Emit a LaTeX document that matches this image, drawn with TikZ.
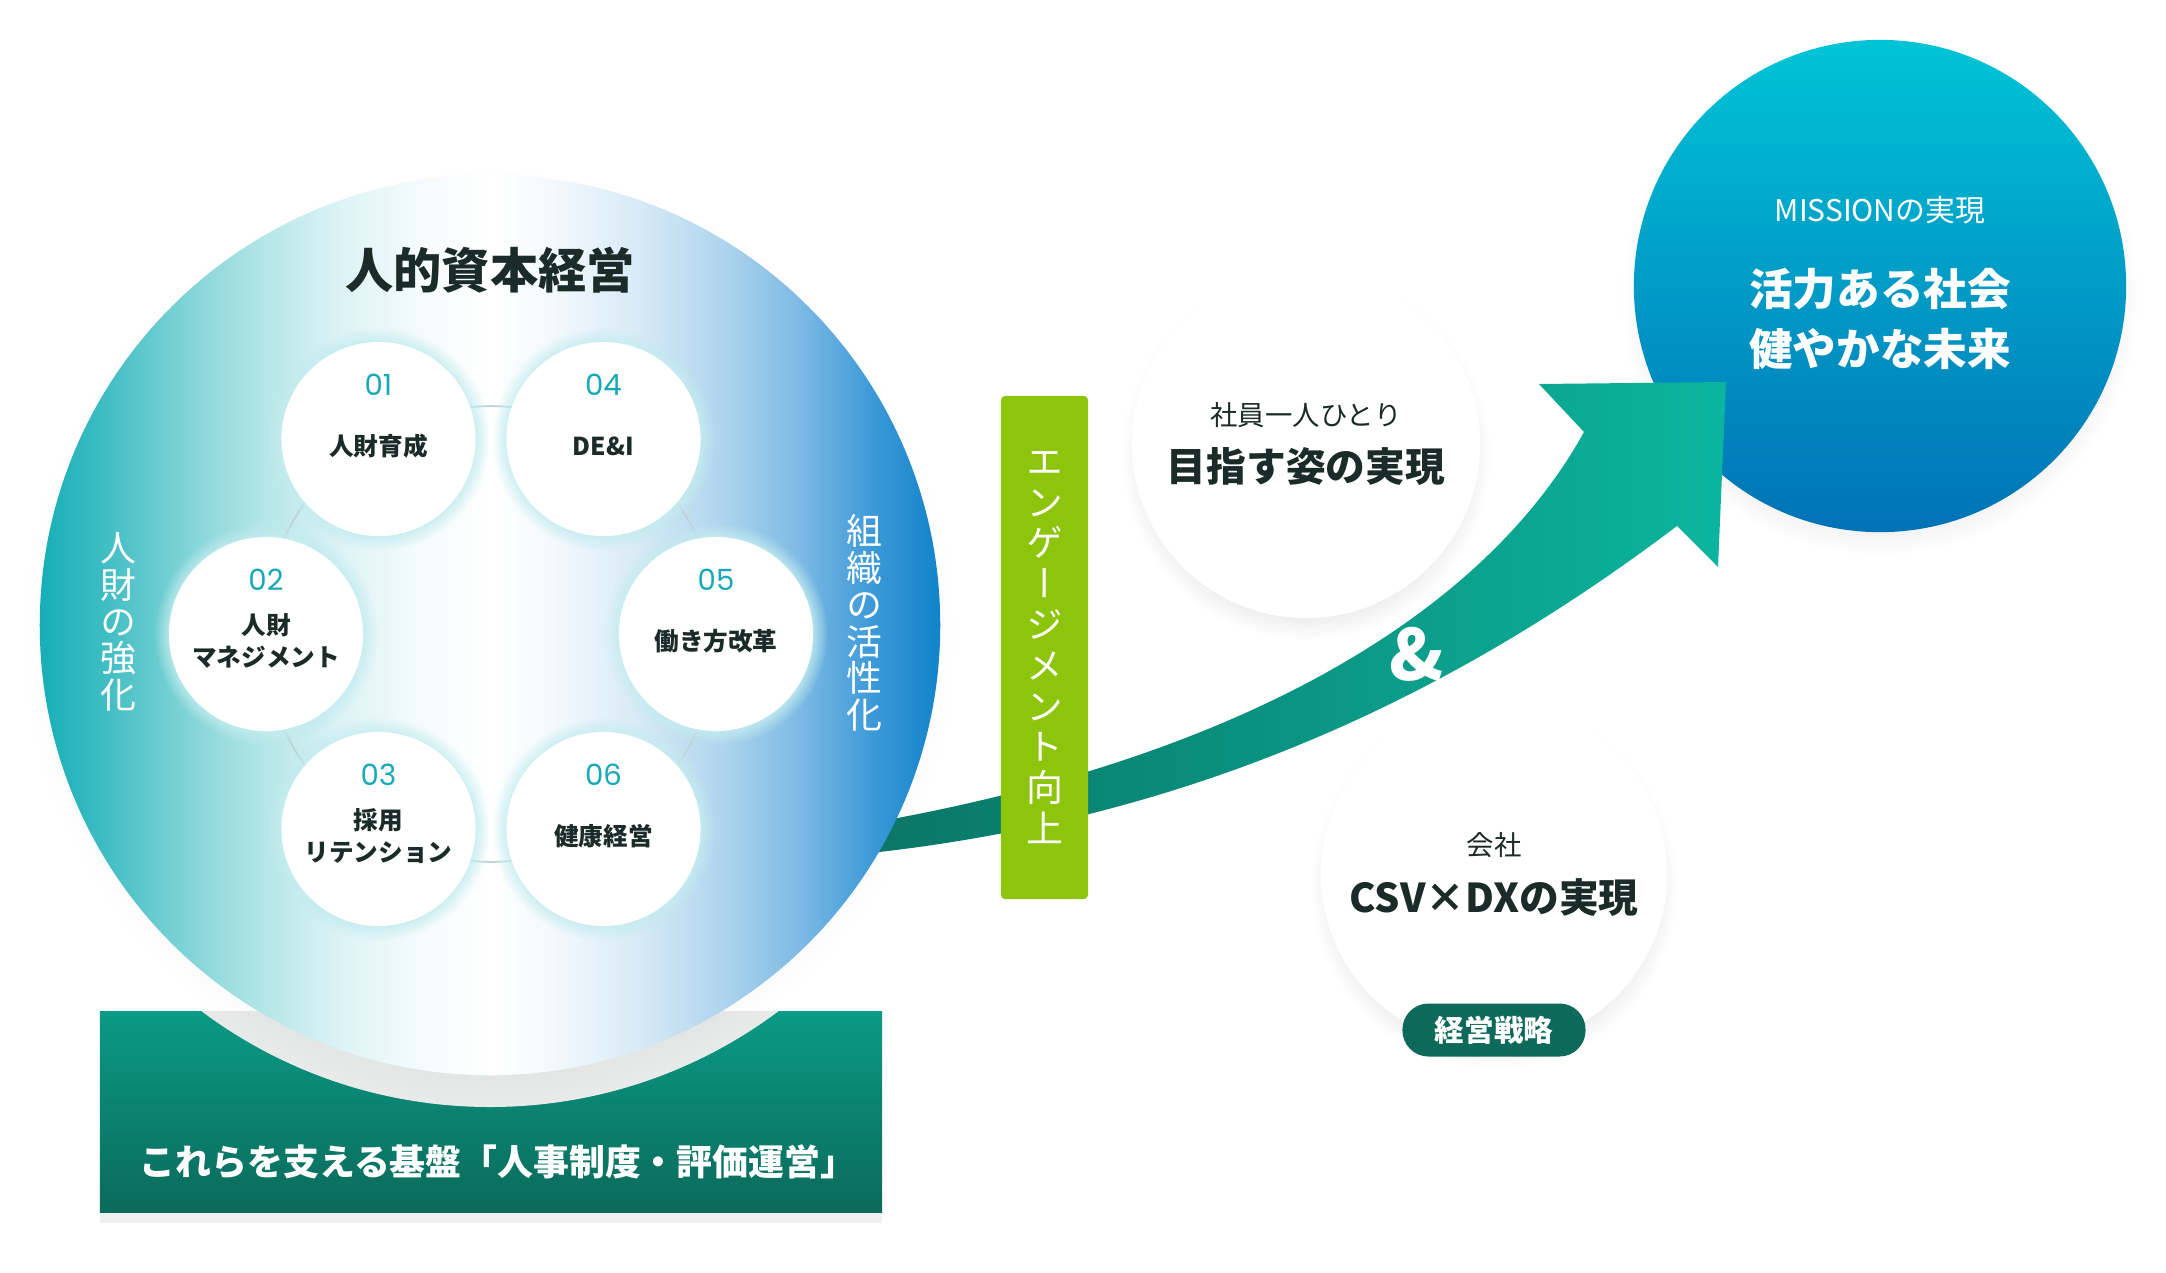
\documentclass[tikz,border=0pt]{standalone}
\usepackage{fontspec}
\setmainfont{Noto Sans CJK JP}
\newfontfamily\numfont{Poppins}
\newfontfamily\tatefont[RawFeature=+vert]{Noto Sans CJK JP}
\usetikzlibrary{shadows,fadings,positioning}

\definecolor{ink}{HTML}{1A2B28}
\definecolor{numteal}{HTML}{17A9B7}
\definecolor{rA}{HTML}{17AEB7}
\definecolor{rB}{HTML}{3BBCC2}
\definecolor{rC}{HTML}{7CD2D5}
\definecolor{rD}{HTML}{B3E5E7}
\definecolor{rE}{HTML}{DDF3F5}
\definecolor{rF}{HTML}{F5FBFC}
\definecolor{rG}{HTML}{F1F8FC}
\definecolor{rH}{HTML}{D7EAF6}
\definecolor{rI}{HTML}{B0D5EE}
\definecolor{rJ}{HTML}{7DBAE4}
\definecolor{rK}{HTML}{3E9AD8}
\definecolor{rL}{HTML}{1283CA}
\definecolor{baseTop}{HTML}{0A9A85}
\definecolor{baseBot}{HTML}{0B6A5B}
\definecolor{halo}{HTML}{E8EAEA}
\definecolor{glow}{HTML}{C3ECEF}
\definecolor{lime}{HTML}{8CC50B}
\definecolor{arrDark}{HTML}{0A7566}
\definecolor{arrLight}{HTML}{0BB59F}
\definecolor{misTop}{HTML}{00C4D6}
\definecolor{misBot}{HTML}{0072B6}
\definecolor{pillgreen}{HTML}{0D6A5A}
\definecolor{ringline}{HTML}{BFD3D4}

\pgfdeclarehorizontalshading{bigring}{100bp}{color(0bp)=(rA); color(25bp)=(rA); color(28.3bp)=(rB); color(32.8bp)=(rC); color(37.2bp)=(rD); color(41.7bp)=(rE); color(46.1bp)=(rF); color(50bp)=(white); color(53.9bp)=(rG); color(58.3bp)=(rH); color(62.8bp)=(rI); color(67.2bp)=(rJ); color(71.1bp)=(rK); color(75bp)=(rL); color(100bp)=(rL)}

\begin{document}
\begin{tikzpicture}[x=0.01cm, y=-0.01cm,
  bubble/.style={circle, fill=white, inner sep=0pt,
    circular drop shadow={shadow xshift=0pt, shadow yshift=-3pt, shadow scale=1.06, opacity=.16}},
  mission/.style={circle, inner sep=0pt, minimum size=4.92cm, top color=misTop, bottom color=misBot,
    circular drop shadow={shadow xshift=0pt, shadow yshift=-3pt, shadow scale=1.05, opacity=.14}},
  smalltxt/.style={font=\fontsize{7.8}{9}\selectfont, text=ink, inner sep=0pt},
  bigtxt/.style={font=\bfseries\fontsize{11.3}{13}\selectfont, text=ink, inner sep=0pt},
  mistxt/.style={font=\fontsize{8.5}{10}\selectfont, text=white, inner sep=0pt},
  misbig/.style={font=\bfseries\fontsize{12.4}{17}\selectfont, text=white, align=center, inner sep=0pt},
  pill/.style={fill=pillgreen, text=white, rounded corners=0.26cm, minimum width=1.83cm,
    minimum height=0.53cm, inner sep=0pt, font=\bfseries\fontsize{8.4}{10}\selectfont},
  arrowfill/.style={left color=arrDark, right color=arrLight},
  amp/.style={font=\bfseries\fontsize{20}{20}\selectfont, text=white, inner sep=0pt},
  base/.style={minimum width=7.82cm, minimum height=2cm, inner sep=0pt, top color=baseTop, bottom color=baseBot,
    drop shadow={shadow xshift=0pt, shadow yshift=-3pt, opacity=.12}},
  basetxt/.style={font=\bfseries\fontsize{10.2}{12}\selectfont, text=white, inner sep=0pt},
  core/.style={circle, minimum size=9cm, inner sep=0pt, shade, shading=bigring,
    circular drop shadow={shadow xshift=0pt, shadow yshift=-3pt, shadow scale=1.03, opacity=.1}},
  ring/.style={draw=ringline, line width=0.5pt},
  petal/.style={circle, fill=white, minimum size=1.94cm, inner sep=0pt,
    circular drop shadow={fill=glow, shadow xshift=0pt, shadow yshift=0pt, shadow scale=1.15, opacity=.9}},
  num/.style={font=\numfont\fontsize{8.3}{9}\selectfont, text=numteal, inner sep=0pt},
  lbl/.style={font=\bfseries\fontsize{7}{9.1}\selectfont, text=ink, align=center, inner sep=0pt},
  title/.style={font=\bfseries\fontsize{13.7}{16}\selectfont, text=ink, inner sep=0pt},
  tate/.style={font=\tatefont\fontsize{10.2}{10.45}\selectfont, text=white, align=center, inner sep=0pt},
  bar/.style={fill=lime, rounded corners=1.2pt, minimum width=0.87cm, minimum height=5.03cm, inner sep=0pt,
    text=white, align=center, font=\tatefont\fontsize{10.5}{11.6}\selectfont}]

\useasboundingbox (0,0) rectangle (2166,1272);

\node[bubble, minimum size=3.48cm,
  label={[smalltxt, yshift=8.3pt]center:社員一人ひとり},
  label={[bigtxt, yshift=-6.3pt]center:目指す姿の実現}] at (1306,444)(self){};
\node[bubble, minimum size=3.46cm,
  label={[smalltxt, yshift=8.3pt]center:会社},
  label={[bigtxt, yshift=-6.8pt]center:CSV×DXの実現}] at (1494,874)(corp){};
\node[pill] at (1494,1030)(pill){経営戦略};
\node[mission,
  label={[mistxt, yshift=21.6pt]center:MISSIONの実現},
  label={[misbig, yshift=-9.4pt]center:活力ある社会\\健やかな未来}] at (1880,286)(mission){};

\path[arrowfill] (870,823) .. controls (1230,760) and (1480,620) .. (1584,432) -- (1539,384) -- (1726,382)
  -- (1718,567) -- (1677,526) .. controls (1477,677) and (1220,815) .. (870,853) -- cycle;
\node[amp] at (1417,654)(amp){\&};

\node[base] at (491,1112)(base){};
\begin{scope}
  \clip (base.south west) rectangle (base.north east);
  \fill[halo] (490,625) circle (482);
\end{scope}
\node[basetxt] at (498,1162)(basetxt){これらを支える基盤「人事制度・評価運営」};

\node[core] at (490,625)(core){};

\coordinate (c1) at (378.5,439);
\coordinate (c4) at (603.5,439);
\coordinate (c5) at (716,634);
\coordinate (c6) at (603.5,829);
\coordinate (c3) at (378.5,829);
\coordinate (c2) at (266,634);
\draw[ring] (c1) edge[bend left=30] (c4) (c4) edge[bend left=30] (c5) (c5) edge[bend left=30] (c6)
  (c6) edge[bend left=30] (c3) (c3) edge[bend left=30] (c2) (c2) edge[bend left=30] (c1);

\node[petal, label={[num, yshift=15.4pt]center:01}, label={[lbl, yshift=-2pt]center:人財育成}] at (c1)(p1){};
\node[petal, label={[num, yshift=15.4pt]center:02}, label={[lbl, yshift=-2pt]center:人財\\マネジメント}] at (c2)(p2){};
\node[petal, label={[num, yshift=15.4pt]center:03}, label={[lbl, yshift=-2pt]center:採用\\リテンション}] at (c3)(p3){};
\node[petal, label={[num, yshift=15.4pt]center:04}, label={[lbl, yshift=-2pt]center:DE\&I}] at (c4)(p4){};
\node[petal, label={[num, yshift=15.4pt]center:05}, label={[lbl, yshift=-2pt]center:働き方改革}] at (c5)(p5){};
\node[petal, label={[num, yshift=15.4pt]center:06}, label={[lbl, yshift=-2pt]center:健康経営}] at (c6)(p6){};

\node[title] at (490,270)(title){人的資本経営};
\node[tate] at (118,622)(left){人\\財\\の\\強\\化};
\node[tate] at (864,623)(right){組\\織\\の\\活\\性\\化};

\node[bar] at (1044.5,647.5)(bar){エ\\ン\\ゲ\\ー\\ジ\\メ\\ン\\ト\\向\\上};
\end{tikzpicture}
\end{document}
